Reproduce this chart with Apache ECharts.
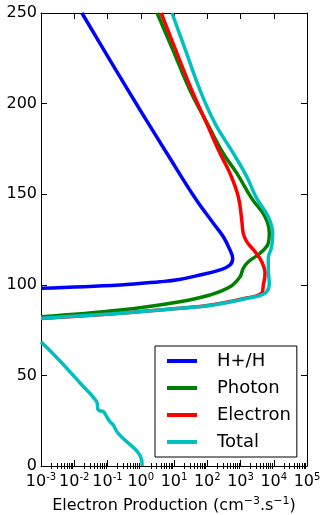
<!DOCTYPE html>
<html>
<head>
<meta charset="utf-8">
<title>echarts</title>
<style>
  html, body { margin: 0; padding: 0; width: 100%; height: 100%; overflow: hidden; background: #fff; }
  #main { width: 321px; height: 515px; }
</style>
<script src="https://cdn.jsdelivr.net/npm/echarts@6/dist/echarts.min.js"></script>
</head>
<body>
<div id="main"></div>
<script>
// altitude (km) vs electron production (cm-3 s-1)
var seriesNames = ['H+/H', 'Photon', 'Electron', 'Total'];

var hAlt = [98.1, 99.9, 101.7, 102.8, 105.4, 108.2, 110.9, 114.6, 119.2, 126.5, 134, 147.9, 172.6, 196.5, 225, 250];
var hVal = [0.001, 0.24, 3.8, 13, 60, 242, 483, 582, 483, 304, 152, 43, 6.1, 0.95, 0.11, 0.017];

var photonAlt = [82.4, 86.1, 90.7, 94.4, 98.9, 104.5, 109.1, 112.7, 117.4, 122.9, 128.4, 137.6, 147.7, 161.5, 172.6, 189.1, 207.5, 229.6, 250];
var photonVal = [0.001, 0.24, 15, 121, 483, 970, 1210, 1720, 3860, 6850, 7350, 5460, 2170, 780, 300, 100, 30, 9.3, 3.1];

var elecAlt = [81.4, 84.2, 86.9, 88.8, 92.4, 95.3, 99.9, 106.3, 112.7, 118.3, 123.8, 128.4, 135.8, 148.6, 161.5, 172.6, 189.1, 207.5, 229.6, 250];
var elecVal = [0.001, 0.2, 12, 130, 1300, 4300, 4860, 5460, 4340, 2730, 1540, 1210, 1090, 859, 483, 242, 96, 34, 11.2, 4.1];

// null = gap where the total drops below the axis minimum
var totAlt = [0, 3.3, 18, 20.8, 22.6, 24.4, 27.2, 30, 30.9, 35.5, 45.8, 58.5, 68.6, null,
              81.5, 84.3, 87, 88.9, 92.5, 95.3, 100.8, 108.2, 114.6, 121, 128.4, 137.6, 147.7, 159.7, 172.6, 189.1, 207.5, 229.6, 250];
var totVal = [1.1, 1.07, 0.21, 0.168, 0.15, 0.119, 0.095, 0.075, 0.053, 0.047, 0.015, 0.0035, 0.001, null,
              0.001, 0.24, 15, 152, 1540, 5460, 7350, 6850, 6850, 8660, 9300, 6850, 3070, 1540, 608, 171, 60.5, 22, 8.7];

var colors = ['#0000ff', '#008000', '#ff0000', '#00bfbf'];

var xMin = 1e-3, xMax = 1e5;
var yMin = 0, yMax = 250, yStep = 50;

function pairs(vals, alts) {
  return vals.map(function (v, i) {
    return v === null ? ['-', '-'] : [v, alts[i]];
  });
}

// minor log ticks 2..9 per decade (positions in log10 space)
var minorTicks = [];
for (var d = -3; d < 5; d++) {
  for (var k = 2; k <= 9; k++) minorTicks.push(d + Math.log10(k));
}

var font = 'DejaVu Sans';
var tickSup = { fontSize: 10, fontFamily: font, color: '#000', padding: [0, 0, 9, 0] };
var nameSup = { fontSize: 11, fontFamily: font, color: '#000', padding: [0, 0, 9, 0] };

function expLabel(v) {
  var e = Math.round(Math.log10(v));
  return '{b|10}{s|' + e + '}';
}

function mainX(pos, labels) {
  return {
    type: 'log', position: pos, min: xMin, max: xMax, interval: 1, logBase: 10,
    axisLine: { show: true, onZero: false, lineStyle: { color: '#000', width: 1 } },
    axisTick: { show: true, inside: true, length: 6, lineStyle: { color: '#000' } },
    axisLabel: labels ? {
      show: true, margin: 6, formatter: expLabel, hideOverlap: false,
      showMinLabel: true, showMaxLabel: true,
      rich: { b: { fontSize: 16, fontFamily: font, color: '#000' }, s: tickSup }
    } : { show: false },
    splitLine: { show: false }, minorTick: { show: false },
    name: labels ? '{n|Electron Production (cm}{s|\u22123}{n|.s}{s|\u22121}{n|)}' : '',
    nameLocation: 'middle', nameGap: 30,
    nameTextStyle: { rich: { n: { fontSize: 16, fontFamily: font, color: '#000' }, s: nameSup } }
  };
}

function minorX(pos) {
  return {
    type: 'value', position: pos, min: -3, max: 5,
    axisLine: { show: false },
    axisTick: { show: true, inside: true, length: 3, customValues: minorTicks, lineStyle: { color: '#000' } },
    axisLabel: { show: false }, splitLine: { show: false }
  };
}

function yAx(pos, labels) {
  return {
    type: 'value', position: pos, min: yMin, max: yMax, interval: yStep,
    axisLine: { show: true, onZero: false, lineStyle: { color: '#000', width: 1 } },
    axisTick: { show: true, inside: true, length: 6, lineStyle: { color: '#000' } },
    axisLabel: { show: labels, margin: 4, fontSize: 16, fontFamily: font, color: '#000',
                 showMinLabel: true, showMaxLabel: true, hideOverlap: false },
    splitLine: { show: false }
  };
}

var datasets = [pairs(hVal, hAlt), pairs(photonVal, photonAlt), pairs(elecVal, elecAlt), pairs(totVal, totAlt)];

var option = {
  animation: false,
  backgroundColor: '#fff',
  grid: { left: 41, right: 14, top: 13, bottom: 49, containLabel: false, outerBoundsMode: 'none' },
  xAxis: [mainX('bottom', true), mainX('top', false), minorX('bottom'), minorX('top')],
  yAxis: [yAx('left', true), yAx('right', false)],
  legend: {
    orient: 'vertical', left: 155, top: 346,
    icon: 'rect', itemWidth: 30, itemHeight: 4, itemGap: 7,
    padding: [5, 6, 5, 12],
    borderColor: '#000', borderWidth: 1, borderRadius: 0, backgroundColor: '#fff',
    textStyle: { fontSize: 18, fontFamily: font, color: '#000', lineHeight: 20, padding: [0, 0, 0, 15] },
    data: seriesNames
  },
  series: seriesNames.map(function (n, i) {
    return {
      name: n, type: 'line', xAxisIndex: 0, yAxisIndex: 0,
      data: datasets[i], showSymbol: false, smooth: 0.4, connectNulls: false, clip: true,
      lineStyle: { color: colors[i], width: 3.5 }, itemStyle: { color: colors[i] }
    };
  })
};

var myChart = echarts.init(document.getElementById('main'));
myChart.setOption(option);
</script>
</body>
</html>
